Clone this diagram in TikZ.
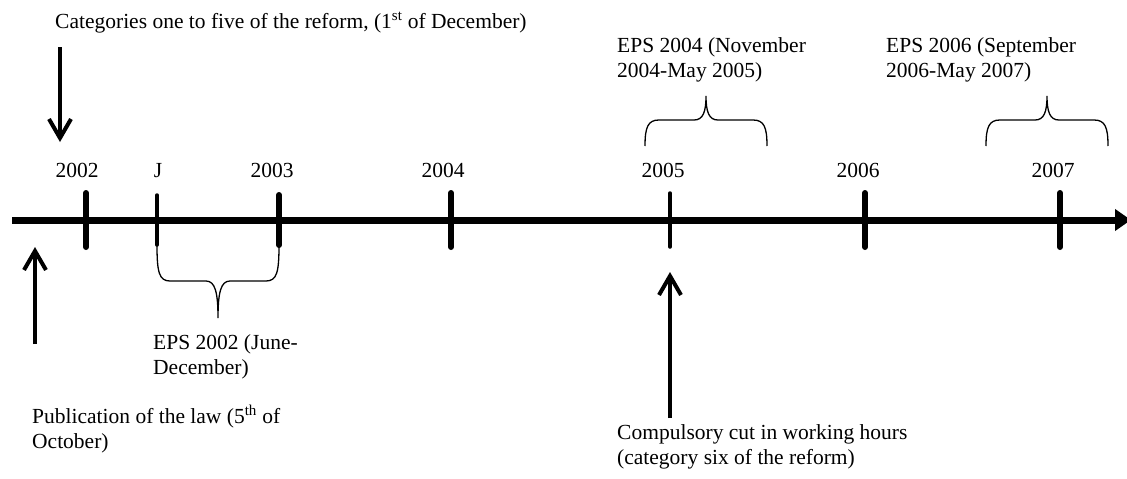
\documentclass[tikz,border=0pt]{standalone}
\usepackage{fontspec}
\setmainfont{Liberation Serif}
\usetikzlibrary{arrows.meta}
\begin{document}
\begin{tikzpicture}[x=1pt,y=-1pt,
  lbl/.style={font=\fontsize{21.5}{25}\selectfont, inner sep=0pt, anchor=base west, align=left},
  yr/.style={font=\fontsize{21.5}{25}\selectfont, inner sep=0pt, anchor=base},
  bigtick/.style={line width=6pt, line cap=round},
  smalltick/.style={line width=3.5pt, line cap=round},
  bracepath/.style={line width=1.3pt},
  pointer/.style={line width=4pt, -{Straight Barb[length=19pt,width=22pt]}},
  axisline/.style={line width=7pt, -{Triangle[length=16pt,width=21pt]}}
]
\useasboundingbox (0,0) rectangle (1127,479);

% axis
\coordinate (axL) at (12,220);
\coordinate (axR) at (1131,220);
\draw[axisline] (axL) -- (axR);

% ticks
\draw[bigtick] (86,193) -- (86,247);
\draw[smalltick] (157,195) -- (157,245);
\draw[bigtick] (279,195) -- (279,245);
\draw[bigtick] (451,193) -- (451,247);
\draw[smalltick] (670,193) -- (670,247);
\draw[bigtick] (865,193) -- (865,247);
\draw[bigtick] (1060,193) -- (1060,247);

% year labels
\node[yr] (y2002) at (77,177) {2002};
\node[yr] (yJ) at (158,177) {J};
\node[yr] (y2003) at (272,177) {2003};
\node[yr] (y2004) at (443,177) {2004};
\node[yr] (y2005) at (663,177) {2005};
\node[yr] (y2006) at (858,177) {2006};
\node[yr] (y2007) at (1053,177) {2007};

% brace below J-2003
\draw[bracepath] (157,245) .. controls (157,272) and (159,281) .. (170,281) -- (206,281)
  .. controls (215,281) and (218,292) .. (218,318)
  .. controls (218,292) and (221,281) .. (230,281) -- (266,281)
  .. controls (277,281) and (279,272) .. (279,245);

% brace above 2005
\draw[bracepath] (645,146) .. controls (645,127) and (648,120) .. (659,120) -- (694,120)
  .. controls (703,120) and (706,112) .. (706,96)
  .. controls (706,112) and (709,120) .. (718,120) -- (753,120)
  .. controls (764,120) and (767,127) .. (767,146);

% brace above 2007
\draw[bracepath] (986,146) .. controls (986,127) and (989,120) .. (1000,120) -- (1035,120)
  .. controls (1044,120) and (1047,112) .. (1047,96)
  .. controls (1047,112) and (1050,120) .. (1059,120) -- (1094,120)
  .. controls (1105,120) and (1108,127) .. (1108,146);

% pointer arrows
\coordinate (catA) at (60,47);
\coordinate (catB) at (60,142);
\draw[pointer] (catA) -- (catB);
\coordinate (pubA) at (35,344);
\coordinate (pubB) at (35,247);
\draw[pointer] (pubA) -- (pubB);
\coordinate (cutA) at (670,418);
\coordinate (cutB) at (670,272);
\draw[pointer] (cutA) -- (cutB);

% texts (base anchor = baseline of last line)
\node[lbl] (cat) at (55,28) {Categories one to five of the reform, (1\textsuperscript{st} of December)};
\node[lbl] (eps04) at (617,77) {EPS 2004 (November\\2004-May 2005)};
\node[lbl] (eps06) at (886,77) {EPS 2006 (September\\2006-May 2007)};
\node[lbl] (eps02) at (153,374) {EPS 2002 (June-\\December)};
\node[lbl] (pub) at (32,448) {Publication of the law (5\textsuperscript{th} of\\October)};
\node[lbl] (cut) at (617,464) {Compulsory cut in working hours\\(category six of the reform)};
\end{tikzpicture}
\end{document}
